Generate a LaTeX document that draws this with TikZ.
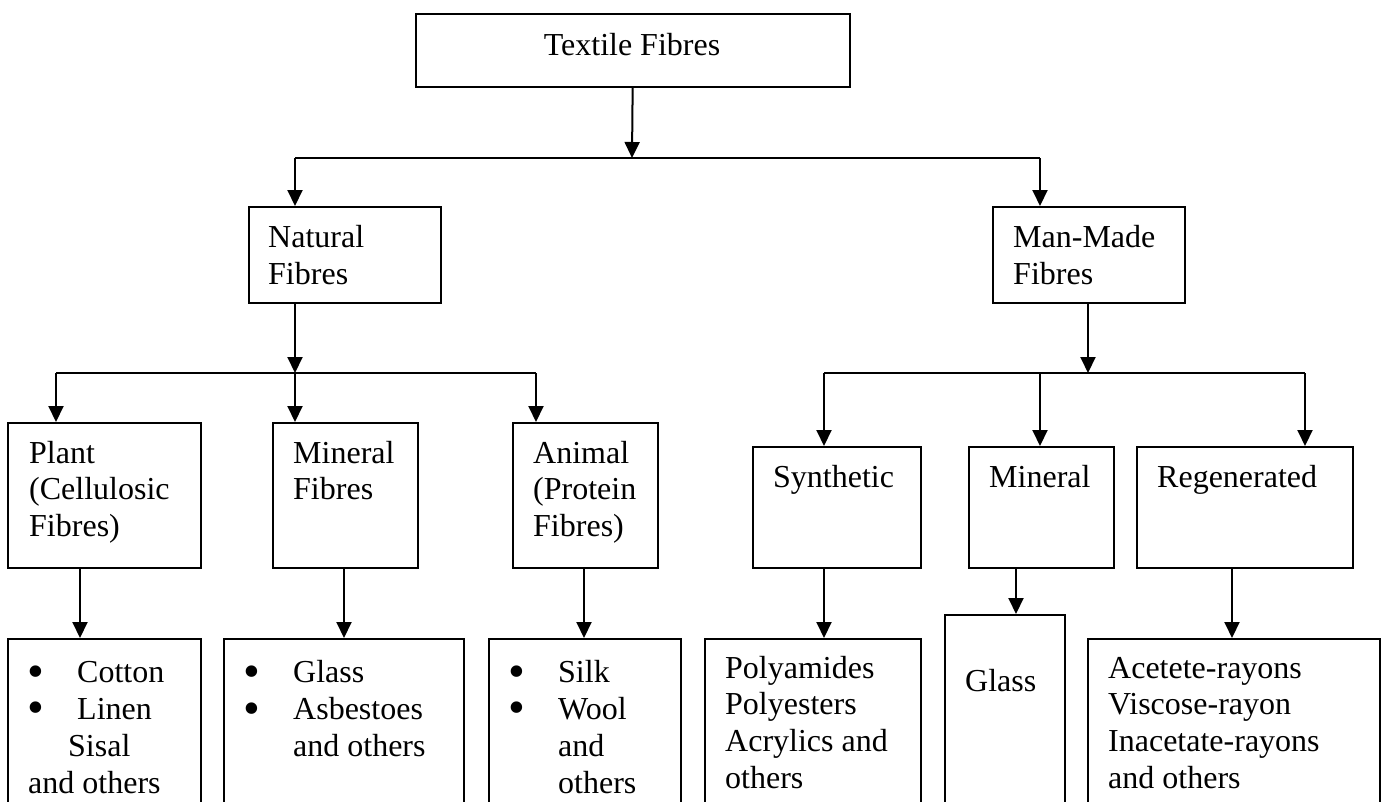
\documentclass[tikz,border=0pt]{standalone}
\usepackage{fontspec}
\usepackage{graphicx}
\setmainfont{Liberation Serif}
\usetikzlibrary{arrows.meta}
\newcommand{\bul}{\makebox[49pt][l]{\hspace*{-1pt}\raisebox{-4.5pt}{\scalebox{1.5}{\textbullet}}}}
\tikzset{
	caja/.style={draw, line width=2pt, inner sep=0pt, anchor=north west},
	texto/.style={anchor=base west, align=left, inner sep=0pt, font=\fontsize{32pt}{36.8pt}\selectfont},
	linea/.style={line width=2pt},
	flecha/.style={line width=2pt, -{Triangle[length=16pt,width=15pt]}}
}
\begin{document}
\begin{tikzpicture}[x=1pt, y=-1pt]
	\useasboundingbox (0,0) rectangle (1382,801);
	\clip (0,0) rectangle (1382,801);
		% Top
			\node[caja, minimum width=434, minimum height=73] (textile) at (415,13) {};
			\node[texto, anchor=base] (textile-t) at (632,55) {Textile Fibres};
		% Second level (text placed by its last line)
			\node[caja, minimum width=192, minimum height=96] (natural) at (248,206) {};
			\node[caja, minimum width=192, minimum height=96] (manmade) at (992,206) {};
			\node[texto] (natural-t) at (268,284) {Natural\\Fibres};
			\node[texto] (manmade-t) at (1013,284) {Man-Made\\Fibres};
		% Third level
			% Natural
				\node[caja, minimum width=193, minimum height=145] (plant) at (7,422) {};
				\node[caja, minimum width=145, minimum height=145] (minnat) at (272,422) {};
				\node[caja, minimum width=145, minimum height=145] (animal) at (512,422) {};
				\node[texto] (plant-t) at (29,536.6) {Plant\\(Cellulosic\\Fibres)};
				\node[texto] (minnat-t) at (293,499.8) {Mineral\\Fibres};
				\node[texto] (animal-t) at (533,536.6) {Animal\\(Protein\\Fibres)};
			% Man-made
				\node[caja, minimum width=168, minimum height=121] (synth) at (752,446) {};
				\node[caja, minimum width=145, minimum height=121] (minman) at (968,446) {};
				\node[caja, minimum width=216, minimum height=121] (regen) at (1136,446) {};
				\node[texto] (synth-t) at (773,487) {Synthetic};
				\node[texto] (minman-t) at (989,487) {Mineral};
				\node[texto] (regen-t) at (1157,487) {Regenerated};
		% Examples
			\node[caja, minimum width=193, minimum height=200] (cotton) at (7,638) {};
			\node[caja, minimum width=240, minimum height=200] (glassnat) at (223,638) {};
			\node[caja, minimum width=192, minimum height=200] (silk) at (488,638) {};
			\node[caja, minimum width=216, minimum height=200] (polyam) at (704,638) {};
			\node[caja, minimum width=120, minimum height=224] (glassman) at (944,614) {};
			\node[caja, minimum width=292, minimum height=200] (acetate) at (1087,638) {};
			\node[texto] (cotton-t) at (28,793) {\bul Cotton\\\bul Linen\\\hspace*{40pt}Sisal\\and others};
			\node[texto] (glassnat-t) at (244,756.5) {\bul Glass\\\bul Asbestoes\\\hspace*{49pt}and others};
			\node[texto] (silk-t) at (509,793) {\bul Silk\\\bul Wool\\\hspace*{49pt}and\\\hspace*{49pt}others};
			\node[texto] (polyam-t) at (725,788.4) {Polyamides\\Polyesters\\Acrylics and\\others};
			\node[texto] (glassman-t) at (965,691) {Glass};
			\node[texto] (acetate-t) at (1108,788.4) {Acetete-rayons\\Viscose-rayon\\Inacetate-rayons\\and others};
		% Arrows
			% From the top
				\coordinate (hub1) at (632,158);
				\coordinate (natin) at (295,158);
				\coordinate (manin) at (1040,158);
				\draw[flecha] (textile) -- (hub1);
				\draw[linea] (natin) -- (manin);
				\draw[flecha] (natin) -- (natin |- natural.north);
				\draw[flecha] (manin) -- (manin |- manmade.north);
			% Natural branch
				\coordinate (hub2) at (295,373);
				\coordinate (plantin) at (56,373);
				\coordinate (animin) at (536,373);
				\draw[flecha] (hub2 |- natural.south) -- (hub2);
				\draw[linea] (plantin) -- (animin);
				\draw[flecha] (plantin) -- (plantin |- plant.north);
				\draw[flecha] (hub2) -- (hub2 |- minnat.north);
				\draw[flecha] (animin) -- (animin |- animal.north);
			% Man-made branch
				\coordinate (hub3) at (1088,373);
				\coordinate (synthin) at (824,373);
				\coordinate (minmanin) at (1040,373);
				\coordinate (regenin) at (1305,373);
				\draw[flecha] (hub3 |- manmade.south) -- (hub3);
				\draw[linea] (synthin) -- (regenin);
				\draw[flecha] (synthin) -- (synthin |- synth.north);
				\draw[flecha] (minmanin) -- (minmanin |- minman.north);
				\draw[flecha] (regenin) -- (regenin |- regen.north);
			% To the examples
				\coordinate (p1) at (80,567);
				\coordinate (p2) at (344,567);
				\coordinate (p3) at (584,567);
				\coordinate (p4) at (824,567);
				\coordinate (p5) at (1016,567);
				\coordinate (p6) at (1232,567);
				\draw[flecha] (p1) -- (p1 |- cotton.north);
				\draw[flecha] (p2) -- (p2 |- glassnat.north);
				\draw[flecha] (p3) -- (p3 |- silk.north);
				\draw[flecha] (p4) -- (p4 |- polyam.north);
				\draw[flecha] (p5) -- (p5 |- glassman.north);
				\draw[flecha] (p6) -- (p6 |- acetate.north);
\end{tikzpicture}
\end{document}
